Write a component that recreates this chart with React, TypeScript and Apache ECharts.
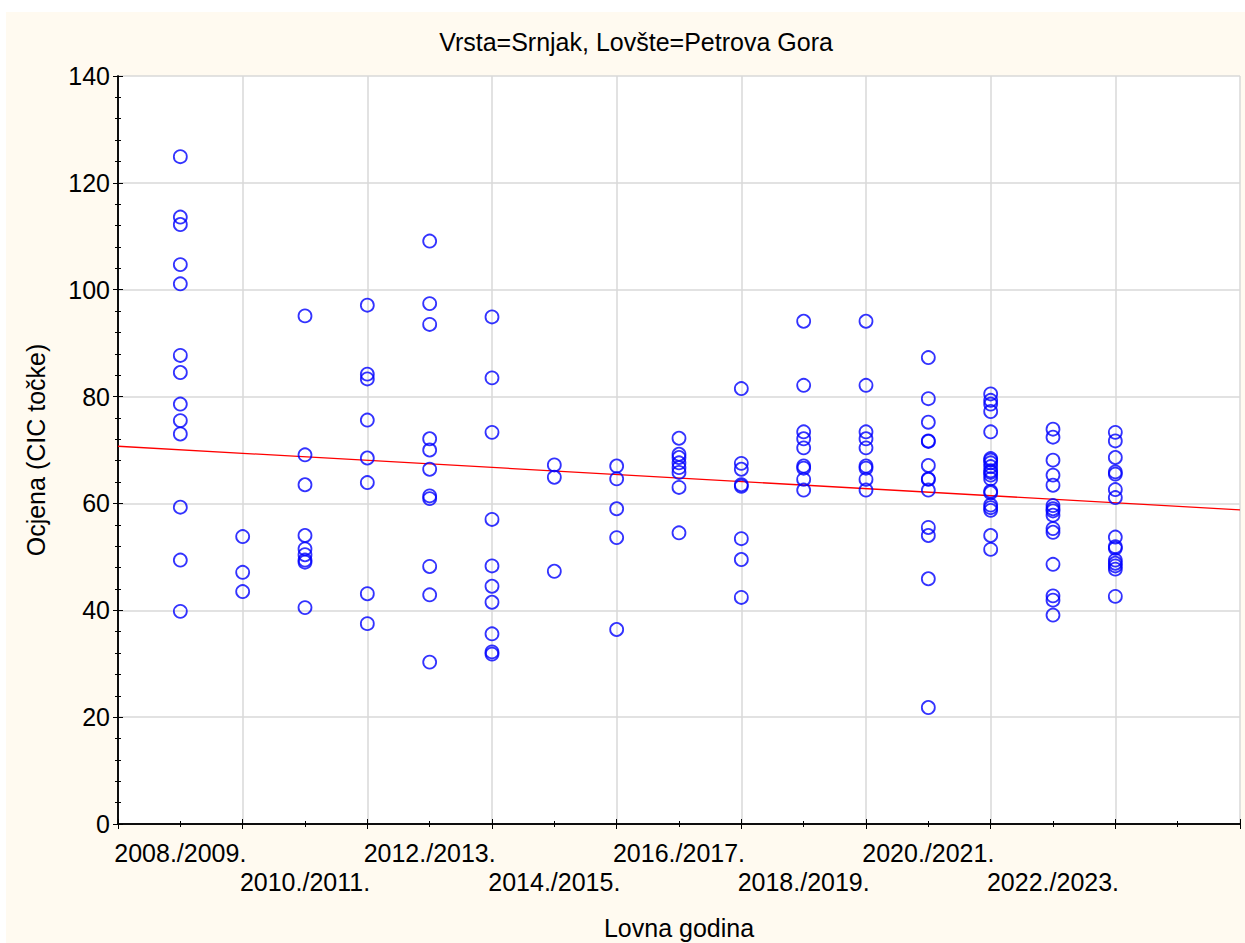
import React, { useEffect, useRef } from "react";
import * as echarts from "echarts";

const title = "Vrsta=Srnjak, Lovšte=Petrova Gora";
const yAxisName = "Ocjena (CIC točke)";
const xAxisName = "Lovna godina";

const seasons = [
  "2008./2009.", "2009./2010.", "2010./2011.", "2011./2012.",
  "2012./2013.", "2013./2014.", "2014./2015.", "2015./2016.",
  "2016./2017.", "2017./2018.", "2018./2019.", "2019./2020.",
  "2020./2021.", "2021./2022.", "2022./2023.", "2023./2024.",
];

const s2008 = [124.9, 113.6, 112.2, 104.7, 101.1, 87.7, 84.5, 78.6, 75.5, 73.0, 59.3, 49.4, 39.8];
const s2009 = [53.8, 47.1, 43.5];
const s2010 = [95.1, 69.1, 63.5, 54.0, 51.5, 50.4, 49.4, 49.0, 40.5];
const s2011 = [97.1, 84.2, 83.3, 75.6, 68.5, 63.9, 43.1, 37.5];
const s2012 = [109.1, 97.4, 93.5, 72.1, 70.0, 66.4, 61.4, 60.9, 48.2, 42.9, 30.3];
const s2013 = [94.9, 83.5, 73.3, 57.0, 48.3, 44.5, 41.5, 35.6, 32.2, 31.8];
const s2014 = [67.2, 64.9, 47.3];
const s2015 = [67.0, 64.6, 59.0, 53.6, 36.4];
const s2016 = [72.2, 69.2, 68.6, 67.6, 66.7, 65.8, 63.0, 54.5];
const s2017 = [81.5, 67.5, 66.4, 63.5, 63.2, 53.4, 49.5, 42.4];
const s2018 = [94.1, 82.1, 73.4, 72.1, 70.4, 67.0, 66.6, 64.5, 62.5];
const s2019 = [94.1, 82.1, 73.4, 72.1, 70.4, 67.0, 66.6, 64.5, 62.5];
const s2020 = [87.3, 79.6, 75.2, 71.7, 71.6, 67.1, 64.6, 64.5, 62.5, 55.5, 54.0, 45.9, 21.8];
const s2021 = [80.5, 79.3, 78.6, 77.2, 73.4, 68.4, 68.1, 67.6, 66.9, 66.1, 65.8, 65.3, 64.6, 62.3, 62.0, 59.7, 59.2, 58.7, 54.0, 51.4];
const s2022 = [73.9, 72.4, 68.1, 65.3, 63.4, 59.6, 59.0, 58.6, 57.8, 55.3, 54.6, 48.6, 42.7, 41.9, 39.1];
const s2023 = [73.3, 71.7, 68.6, 65.9, 65.5, 62.6, 61.1, 53.7, 51.9, 51.6, 49.4, 48.8, 48.3, 47.7, 42.6];

const seasonValues = [
  s2008, s2009, s2010, s2011, s2012, s2013, s2014, s2015,
  s2016, s2017, s2018, s2019, s2020, s2021, s2022, s2023,
];

// regression line end points (x position, value)
const regressionLine = [
  [0, 70.7],
  [18, 58.8],
];

const X_MIN = 0;
const X_MAX = 18;
const Y_MIN = 0;
const Y_MAX = 140;

const FONT = "'Liberation Sans', Arial, sans-serif";
const FS = 25;

export default function App() {
  const ref = useRef<HTMLDivElement>(null);

  useEffect(() => {
    if (!ref.current) return;
    const chart = echarts.init(ref.current, undefined, { renderer: "svg" });

    const points: number[][] = [];
    seasonValues.forEach((vals, i) => {
      vals.forEach((v) => points.push([i + 1, v]));
    });

    const tickLabel = (v: number) => {
      if (v % 2 !== 1) return "";
      const idx = v - 1;
      const label = seasons[idx];
      if (!label) return "";
      return (idx / 2) % 2 === 0 ? label : "\n" + label;
    };

    chart.setOption({
      animation: false,
      backgroundColor: "#FFFAF0",
      title: {
        text: title,
        left: 625,
        top: 12,
        textAlign: "center",
        textStyle: { fontFamily: FONT, fontSize: FS, fontWeight: "normal", color: "#000" },
      },
      grid: {
        left: 112,
        top: 64,
        right: 5,
        bottom: 119,
        show: true,
        backgroundColor: "#ffffff",
        borderWidth: 0,
        containLabel: false,
        outerBoundsMode: "none",
      },
      xAxis: [
        {
          type: "value",
          min: X_MIN,
          max: X_MAX,
          interval: 2,
          position: "bottom",
          name: xAxisName,
          nameLocation: "middle",
          nameGap: 91,
          nameTextStyle: { fontFamily: FONT, fontSize: FS, color: "#000" },
          axisLine: { show: true, onZero: false, lineStyle: { color: "#000", width: 1.5 } },
          axisTick: { show: true, inside: true, length: 5, lineStyle: { color: "#000" } },
          minorTick: { show: true, splitNumber: 2, length: 3, lineStyle: { color: "#000" } },
          axisLabel: { show: false },
          splitLine: { show: true, lineStyle: { color: "#d9d9d9", width: 1.5 } },
        },
        {
          type: "value",
          min: X_MIN,
          max: X_MAX,
          interval: 1,
          position: "bottom",
          axisLine: { show: false },
          axisTick: { show: false },
          splitLine: { show: false },
          axisLabel: {
            show: true,
            margin: 14,
            fontFamily: FONT,
            fontSize: FS,
            lineHeight: 29,
            color: "#000",
            formatter: (v: number) => tickLabel(v),
          },
        },
        {
          type: "value",
          min: X_MIN,
          max: X_MAX,
          interval: 2,
          position: "top",
          axisLine: { show: true, lineStyle: { color: "#000", width: 1.5 } },
          axisTick: { show: true, inside: true, length: 5, lineStyle: { color: "#000" } },
          minorTick: { show: true, splitNumber: 2, length: 3, lineStyle: { color: "#000" } },
          axisLabel: { show: false },
          splitLine: { show: false },
        },
      ],
      yAxis: [
        {
          type: "value",
          min: Y_MIN,
          max: Y_MAX,
          interval: 20,
          position: "left",
          name: yAxisName,
          nameLocation: "middle",
          nameGap: 70,
          nameRotate: 90,
          nameTextStyle: { fontFamily: FONT, fontSize: FS, color: "#000" },
          axisLine: { show: true, lineStyle: { color: "#000", width: 1.5 } },
          axisTick: { show: true, inside: true, length: 5, lineStyle: { color: "#000" } },
          minorTick: { show: true, splitNumber: 5, length: 3, lineStyle: { color: "#000" } },
          axisLabel: { show: true, margin: 8, fontFamily: FONT, fontSize: FS, color: "#000" },
          splitLine: { show: true, lineStyle: { color: "#d9d9d9", width: 1.5 } },
        },
        {
          type: "value",
          min: Y_MIN,
          max: Y_MAX,
          interval: 20,
          position: "right",
          axisLine: { show: true, lineStyle: { color: "#000", width: 1.5 } },
          axisTick: { show: true, inside: true, length: 5, lineStyle: { color: "#000" } },
          minorTick: { show: true, splitNumber: 5, length: 3, lineStyle: { color: "#000" } },
          axisLabel: { show: false },
          splitLine: { show: false },
        },
      ],
      series: [
        {
          type: "line",
          xAxisIndex: 0,
          yAxisIndex: 0,
          data: regressionLine,
          symbol: "none",
          lineStyle: { color: "#ff0000", width: 1.3 },
          z: 2,
        },
        {
          type: "scatter",
          xAxisIndex: 0,
          yAxisIndex: 0,
          data: points,
          symbol: "circle",
          symbolSize: 13,
          itemStyle: { color: "rgba(0,0,0,0)", borderColor: "#0000ff", borderWidth: 1.8 },
          z: 3,
        },
      ],
    });

    return () => chart.dispose();
  }, []);

  return (
    <div style={{ position: "absolute", left: 0, top: 0, width: 1245, height: 943, background: "#ffffff" }}>
      <div ref={ref} style={{ position: "absolute", left: 6, top: 12, width: 1239, height: 931 }} />
    </div>
  );
}
